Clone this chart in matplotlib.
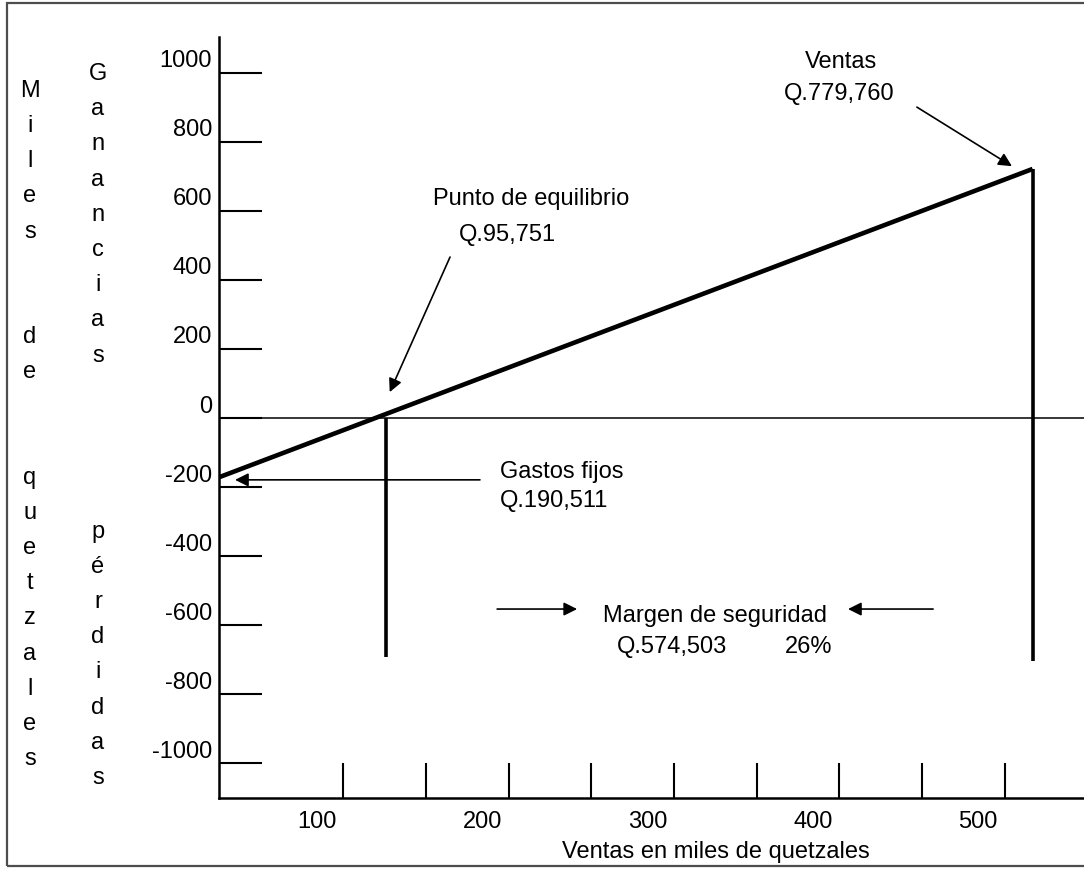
import numpy as np
import matplotlib
matplotlib.use('Agg')
import matplotlib.pyplot as plt
import matplotlib.patches as patches
from matplotlib.transforms import ScaledTranslation

plt.rcParams['font.family'] = ['Liberation Sans', 'DejaVu Sans']

# data (miles de quetzales)
y_ticks = [1000, 800, 600, 400, 200, 0, -200, -400, -600, -800, -1000]
x_labels = [100, 200, 300, 400, 500]
x_tickmarks = [116, 166, 216, 266, 316, 366, 416, 466, 516]
linea_x = [41, 533]          # ventas
linea_y = [-171, 721]        # ganancia / perdida
equilibrio_x = 142
equilibrio_bottom = -692
ventas_x = 533
ventas_top = 721
ventas_bottom = -703

W, H = 1084, 870
fig = plt.figure(figsize=(W / 100, H / 100), dpi=100)

def fx(x):
    return x / W

def fy(y):
    return 1 - y / H

# border frame
fig.patches.append(patches.Rectangle((fx(7), fy(867)), 1.2, (867 - 4) / H,
                                     transform=fig.transFigure, fill=False,
                                     edgecolor='#4d4d4d', lw=1.6))

ax = fig.add_axes([fx(219), fy(799), (W - 219) / W, (799 - 38) / H])
ax.set_xlim(40.7, 564.1)
ax.set_ylim(-1100, 1103)
for s in ['top', 'right']:
    ax.spines[s].set_visible(False)
for s in ['left', 'bottom']:
    ax.spines[s].set_linewidth(1.8)
    ax.spines[s].set_color('black')

# y ticks drawn inward, labels lifted above each tick
ax.set_yticks(y_ticks)
ax.set_yticklabels([str(v) for v in y_ticks])
ax.tick_params(axis='y', direction='in', length=31, width=1.5, pad=5, labelsize=17)
for lab in ax.get_yticklabels():
    lab.set_transform(lab.get_transform() + ScaledTranslation(0, 0.15, fig.dpi_scale_trans))

# x ticks: marks and labels at different places
ax.set_xticks(x_tickmarks)
ax.set_xticklabels([])
ax.tick_params(axis='x', which='major', direction='in', length=25, width=1.5)
ax.set_xticks(x_labels, minor=True)
ax.set_xticklabels([str(v) for v in x_labels], minor=True)
ax.tick_params(axis='x', which='minor', length=0, pad=9, labelsize=17)

# zero line
ax.axhline(0, color='black', lw=1.1)

# profit line and verticals
ax.plot(linea_x, linea_y, color='black', lw=3.3, solid_capstyle='butt', clip_on=False)
ax.plot([equilibrio_x, equilibrio_x], [0, equilibrio_bottom], color='black', lw=2.6,
        solid_capstyle='butt')
ax.plot([ventas_x, ventas_x], [ventas_top, ventas_bottom], color='black', lw=2.6,
        solid_capstyle='butt')

ap = dict(arrowstyle='-|>', color='black', lw=1.2, mutation_scale=20, shrinkA=0, shrinkB=0)
# Ventas arrow
ax.annotate('', xy=(520.5, 729), xytext=(463, 900), arrowprops=ap)
# Punto de equilibrio arrow
ax.annotate('', xy=(144, 75), xytext=(180.5, 466), arrowprops=ap)
# Gastos fijos arrow
ax.annotate('', xy=(50.4, -179), xytext=(198.6, -179), arrowprops=ap)
# Margen de seguridad arrows
ax.annotate('', xy=(257.4, -553), xytext=(209, -553), arrowprops=ap)
ax.annotate('', xy=(421.3, -553), xytext=(472.8, -553), arrowprops=ap)

fs = 17
def txt(x, y, s, ha='center'):
    fig.text(fx(x), fy(y), s, ha=ha, va='baseline', fontsize=fs)

txt(841, 68, 'Ventas')
txt(839, 100, 'Q.779,760')
txt(531, 205, 'Punto de equilibrio')
txt(507, 241, 'Q.95,751')
txt(500, 478, 'Gastos fijos', ha='left')
txt(500, 507, 'Q.190,511', ha='left')
txt(715, 622, 'Margen de seguridad')
txt(617, 653, 'Q.574,503', ha='left')
txt(785, 653, '26%', ha='left')
txt(716, 858, 'Ventas en miles de quetzales')

# vertical axis titles, one letter per line
col1 = list('Miles') + ['', ''] + list('de') + ['', ''] + list('quetzales')
for i, ch in enumerate(col1):
    if ch:
        txt(30, 97 + 35.16 * i, ch)
col2 = list('Ganancias') + ['', '', '', ''] + list('pérdidas')
for i, ch in enumerate(col2):
    if ch:
        txt(98, 80 + 35.2 * i, ch)

fig.savefig('out.png', dpi=100)
